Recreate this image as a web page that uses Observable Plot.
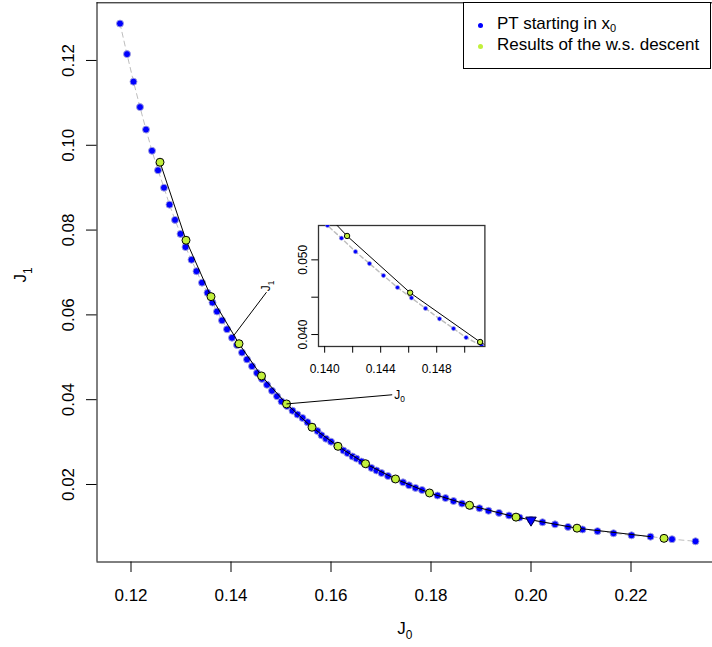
<!DOCTYPE html>
<html>
<head>
<meta charset="utf-8">
<script src="https://cdn.jsdelivr.net/npm/d3@7"></script>
<script src="https://cdn.jsdelivr.net/npm/@observablehq/plot@0.6"></script>
<style>
html, body { margin: 0; padding: 0; background: #fff; overflow: hidden; }
#wrap { position: relative; width: 712px; height: 647px; overflow: hidden;
  font-family: "Liberation Sans", Arial, Helvetica, sans-serif; }
#wrap svg { position: absolute; }
#legend { position: absolute; left: 463px; top: 2px; width: 246px; height: 65px;
  border: 1px solid #000; background: #fff; font-size: 17px; color: #000; }
#legend .item { position: absolute; left: 0; height: 20px; line-height: 20px; white-space: nowrap; }
#legend .sw { position: absolute; left: 14px; top: 9px; width: 5px; height: 5px; border-radius: 50%; }
#legend .lab { position: absolute; left: 33px; top: 0; }
#legend sub { font-size: 11px; vertical-align: -3px; line-height: 0; }
</style>
</head>
<body>
<div id="wrap"></div>
<script>
// ---------------- data ----------------
// PT points (Pareto tracing starting in x0)
const ptJ0 = [0.1178,0.1192,0.1205,0.1218,0.1230,0.1242,0.1254,0.1266,0.1277,0.1288,
  0.1299,0.1309,0.1321,0.1331,0.1342,0.1353,0.1363,0.1372,0.1382,0.1392,
  0.1402,0.1412,0.1422,0.1432,0.1442,0.1452,0.1462,0.1472,0.1482,0.1492,
  0.1501,0.1512,0.1523,0.1533,0.1543,0.1553,0.1563,0.1573,0.1581,0.1590,
  0.1600,0.1612,0.1625,0.1633,0.1643,0.1651,0.1661,0.1671,0.1681,0.1691,
  0.1701,0.1714,0.1727,0.1744,0.1756,0.1769,0.1782,0.1797,0.1813,0.1829,
  0.1845,0.1862,0.1879,0.1897,0.1915,0.1936,0.1956,0.1977,0.2000,0.2023,
  0.2048,0.2074,0.2103,0.2133,0.2165,0.2201,0.2239,0.2282,0.2329];
const ptJ1 = [0.1287,0.1215,0.1150,0.1090,0.1037,0.0987,0.0941,0.0900,0.0860,0.0824,
  0.0791,0.0760,0.0730,0.0703,0.0676,0.0652,0.0629,0.0608,0.0587,0.0566,
  0.0546,0.0529,0.0511,0.0495,0.0479,0.0463,0.0449,0.0435,0.0421,0.0408,
  0.0396,0.0385,0.0374,0.0365,0.0357,0.0347,0.0336,0.0326,0.0316,0.0308,
  0.0301,0.0292,0.0280,0.0274,0.0266,0.0261,0.0254,0.0247,0.0239,0.0233,
  0.0227,0.0220,0.0213,0.0205,0.0198,0.0192,0.0187,0.0180,0.0174,0.0168,
  0.0161,0.0155,0.0149,0.0144,0.0138,0.0133,0.0127,0.0122,0.0116,0.0111,
  0.0106,0.0100,0.0094,0.0090,0.0085,0.0080,0.0077,0.0071,0.0066];

// Results of the weighted-sum descent
const wsJ0 = [0.1258,0.1310,0.1360,0.1416,0.1461,0.1511,0.1562,0.1614,0.1669,0.1729,0.1797,0.1877,0.1970,0.2092,0.2266];
const wsJ1 = [0.0960,0.0776,0.0643,0.0532,0.0456,0.0390,0.0335,0.0290,0.0249,0.0213,0.0180,0.0151,0.0123,0.0097,0.0073];

// black solid path of the descent
const pathJ0 = [0.1258,0.1310,0.1360,0.1416,0.1461,0.1511,0.1562,0.1614,0.1669,0.1729,0.1797,0.1877,0.1970,0.2092,0.2239];
const pathJ1 = [0.0960,0.0776,0.0643,0.0532,0.0456,0.0390,0.0335,0.0290,0.0249,0.0213,0.0180,0.0151,0.0123,0.0097,0.0077];

// starting point x0
const startJ0 = [0.2000];
const startJ1 = [0.0116];

// callout lines to the inset labels
const calloutFromJ0 = [0.14056, 0.1511];
const calloutFromJ1 = [0.05514, 0.0390];
const calloutToJ0 = [0.1471, 0.17224];
const calloutToJ1 = [0.06535, 0.04116];
const calloutLabels = ["J_1", "J_0"];

// axes
const xTicks = [0.12, 0.14, 0.16, 0.18, 0.20, 0.22];
const xTickLabels = ["0.12", "0.14", "0.16", "0.18", "0.20", "0.22"];
const yTicks = [0.02, 0.04, 0.06, 0.08, 0.10, 0.12];
const yTickLabels = ["0.02", "0.04", "0.06", "0.08", "0.10", "0.12"];
const xTitle = "J_0";
const yTitle = "J_1";

const insetXTicks = [0.140, 0.142, 0.144, 0.146, 0.148, 0.150];
const insetXTickLabels = ["0.140", "", "0.144", "", "0.148", ""];
const insetYTicks = [0.040, 0.045, 0.050];
const insetYTickLabels = ["0.040", "", "0.050"];

const legendLabels = ["PT starting in x<sub>0</sub>", "Results of the w.s. descent"];

// ---------------- tables ----------------
const pt = ptJ0.map((x, i) => ({x, y: ptJ1[i]}));
const ws = wsJ0.map((x, i) => ({x, y: wsJ1[i]}));
const path = pathJ0.map((x, i) => ({x, y: pathJ1[i]}));
const start = startJ0.map((x, i) => ({x, y: startJ1[i]}));
const callouts = calloutLabels.map((t, i) => ({x1: calloutFromJ0[i], y1: calloutFromJ1[i], x2: calloutToJ0[i], y2: calloutToJ1[i], t}));

const BLUE = "#0000ff";
const GREEN = "#c2f03c";
const FONT = "'Liberation Sans', Arial, Helvetica, sans-serif";
const fmt = (ticks, labels) => { const m = new Map(ticks.map((t, i) => [t, labels[i]])); return d => m.get(d); };

const xDomain = [0.1132, 0.2375];
const yDomain = [0.00172, 0.1336];

const main = Plot.plot({
  width: 712, height: 647,
  marginLeft: 96.5, marginTop: 2.3, marginRight: 0, marginBottom: 85.5,
  x: {domain: xDomain, range: [96.5, 718]},
  y: {domain: yDomain, range: [561.5, 2.3]},
  style: {fontFamily: FONT, fontSize: "17px", background: "transparent", overflow: "hidden", color: "black"},
  marks: [
    Plot.ruleX([xDomain[0]], {stroke: "black"}),
    Plot.ruleY([yDomain[0]], {stroke: "black"}),
    Plot.ruleY([yDomain[1]], {stroke: "black"}),
    Plot.axisX(xTicks, {anchor: "bottom", tickSize: 10.5, tickPadding: 16, fontSize: 17, tickFormat: fmt(xTicks, xTickLabels), label: null}),
    Plot.axisY(yTicks, {anchor: "left", tickSize: 10.5, tickPadding: 13, tickRotate: -90, fontSize: 17, tickFormat: fmt(yTicks, yTickLabels), label: null}),
    Plot.text([xTitle], {text: d => d, frameAnchor: "bottom", dy: 72, fontSize: 17}),
    Plot.text([yTitle], {text: d => d, frameAnchor: "left", dx: -76, rotate: -90, fontSize: 17}),
    Plot.line(pt, {x: "x", y: "y", stroke: "#bebebe", strokeDasharray: "5,4", strokeWidth: 1}),
    Plot.dot(pt, {x: "x", y: "y", r: 3.5, fill: BLUE, stroke: "#a4a4dc", strokeWidth: 0.9}),
    Plot.line(path, {x: "x", y: "y", stroke: "black", strokeWidth: 1}),
    Plot.dot(ws, {x: "x", y: "y", r: 4, fill: GREEN, stroke: "black", strokeWidth: 1}),
    Plot.dot(start, {x: "x", y: "y", r: 3.9, symbol: "triangle", rotate: 180, fill: BLUE, stroke: "#000044", strokeWidth: 1}),
    Plot.link(callouts, {x1: "x1", y1: "y1", x2: "x2", y2: "y2", stroke: "black", strokeWidth: 1}),
    Plot.text(callouts.slice(0, 1), {x: "x2", y: "y2", text: "t", rotate: -90, textAnchor: "start", dy: -1, fontSize: 12}),
    Plot.text(callouts.slice(1), {x: "x2", y: "y2", text: "t", textAnchor: "start", dx: 2, fontSize: 12})
  ]
});
main.style.left = "0px";
main.style.top = "0px";

const inset = Plot.plot({
  width: 202.4, height: 158,
  marginLeft: 30, marginTop: 5, marginRight: 6, marginBottom: 32,
  x: {domain: [0.13956, 0.15144]},
  y: {domain: [0.0384, 0.0546]},
  style: {fontFamily: FONT, fontSize: "12px", background: "transparent", overflow: "visible", color: "black"},
  marks: [
    Plot.frame({fill: "white", stroke: "#333", strokeWidth: 1.3}),
    Plot.line(pt, {x: "x", y: "y", stroke: "#bebebe", strokeDasharray: "4,3", clip: true}),
    Plot.line(path, {x: "x", y: "y", stroke: "black", strokeWidth: 1, clip: true}),
    Plot.dot(pt, {x: "x", y: "y", r: 2.1, fill: BLUE, stroke: "#a0a0e0", strokeWidth: 0.6, clip: true}),
    Plot.dot(ws, {x: "x", y: "y", r: 2.7, fill: GREEN, stroke: "black", strokeWidth: 1, clip: true}),
    Plot.axisX(insetXTicks, {anchor: "bottom", tickSize: 6.7, tickPadding: 11, fontSize: 12, tickFormat: fmt(insetXTicks, insetXTickLabels), label: null}),
    Plot.axisY(insetYTicks, {anchor: "left", tickSize: 6.7, tickPadding: 5, tickRotate: -90, fontSize: 12, tickFormat: fmt(insetYTicks, insetYTickLabels), label: null})
  ]
});
inset.style.left = "287.8px";
inset.style.top = "220px";

// turn "J_0" style labels into J with a real subscript tspan
function subscriptify(svg) {
  svg.querySelectorAll("text").forEach(t => {
    const nodes = t.querySelectorAll("tspan");
    const targets = nodes.length ? Array.from(nodes) : [t];
    targets.forEach(n => {
      const s = n.textContent;
      const m = /^(.*)_(\d)$/.exec(s);
      if (!m) return;
      const fs = parseFloat(getComputedStyle(t).fontSize) || 12;
      n.textContent = m[1];
      const sub = document.createElementNS("http://www.w3.org/2000/svg", "tspan");
      sub.setAttribute("font-size", (fs * 0.7).toFixed(1));
      sub.setAttribute("dy", (fs * 0.3).toFixed(1));
      sub.textContent = m[2];
      n.appendChild(sub);
    });
  });
}

const wrap = document.getElementById("wrap");
wrap.appendChild(main);
wrap.appendChild(inset);
subscriptify(main);

// legend
const legend = document.createElement("div");
legend.id = "legend";
const colors = [BLUE, GREEN];
legendLabels.forEach((lab, i) => {
  const item = document.createElement("div");
  item.className = "item";
  item.style.top = (11 + i * 20.5) + "px";
  item.innerHTML = `<span class="sw" style="background:${colors[i]}"></span><span class="lab">${lab}</span>`;
  legend.appendChild(item);
});
wrap.appendChild(legend);
</script>
</body>
</html>
